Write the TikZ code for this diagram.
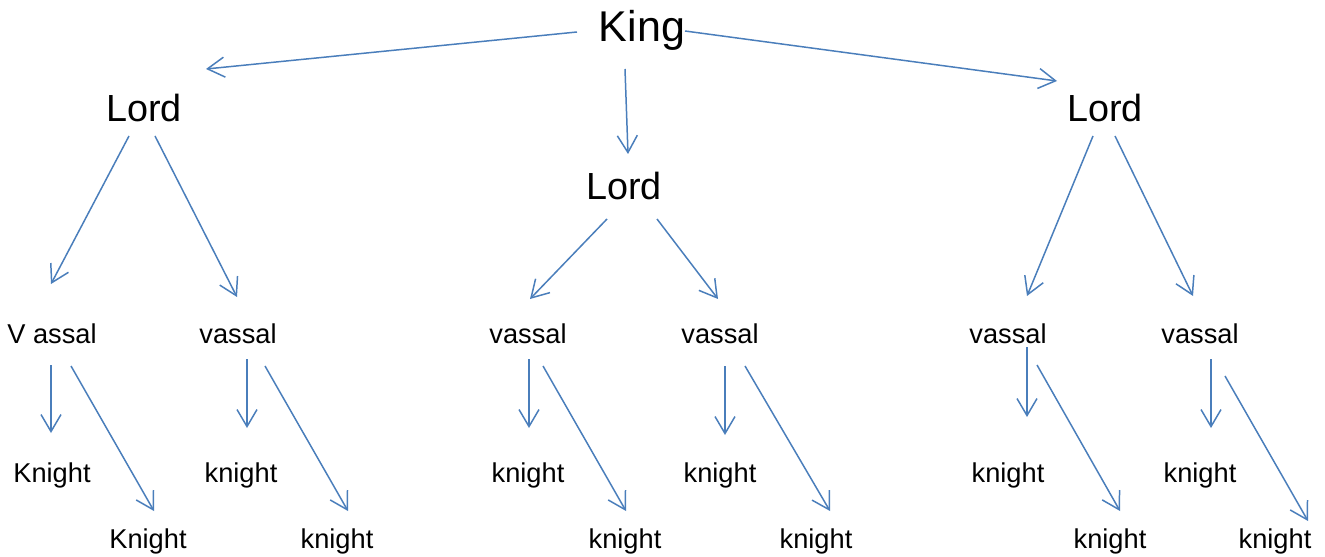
\documentclass[tikz,border=0pt]{standalone}
\usepackage{fontspec}
\setmainfont{Liberation Sans}
\usepackage{xcolor}
\usetikzlibrary{arrows.meta}
\definecolor{linkblue}{RGB}{74,126,187}

\begin{document}
\begin{tikzpicture}[x=0.02cm,y=-0.02cm]
\tikzset{>={Straight Barb[length=3.4mm,width=4mm]}}
\tikzstyle{king} =[anchor=base,inner sep=1pt,font=\fontsize{24.5}{28}\selectfont]
\tikzstyle{lord} =[anchor=base,inner sep=1pt,font=\fontsize{21.5}{25}\selectfont]
\tikzstyle{low} =[anchor=base,inner sep=1pt,font=\fontsize{15.5}{18}\selectfont]
\tikzstyle{link} =[linkblue,line width=0.85pt]
\useasboundingbox (0,0) rectangle (1325,557);
% king and lords
\node[king](king) at (642,42){King};
\node[lord](lordA) at (144,122){Lord};
\node[lord](lordB) at (624,200){Lord};
\node[lord](lordC) at (1105,122){Lord};
% vassals
\node[low](vasA) at (52,343){V assal};
\node[low](vasB) at (238,343){vassal};
\node[low](vasC) at (528,343){vassal};
\node[low](vasD) at (720,343){vassal};
\node[low](vasE) at (1008,343){vassal};
\node[low](vasF) at (1200,343){vassal};
% knights
\node[low](knA1) at (52,482){Knight};
\node[low](knB1) at (241,482){knight};
\node[low](knC1) at (528,482){knight};
\node[low](knD1) at (720,482){knight};
\node[low](knE1) at (1008,482){knight};
\node[low](knF1) at (1200,482){knight};
\node[low](knA2) at (148,548){Knight};
\node[low](knB2) at (337,548){knight};
\node[low](knC2) at (625,548){knight};
\node[low](knD2) at (816,548){knight};
\node[low](knE2) at (1110,548){knight};
\node[low](knF2) at (1275,548){knight};
% king to lords
\draw [->,link] ([shift={(-65,-10)}]king.base) -- ([shift={(62,-53)}]lordA.base);
\draw [->,link] ([shift={(-17,27)}]king.base) -- ([shift={(4,-46)}]lordB.base);
\draw [->,link] ([shift={(43,-11)}]king.base) -- ([shift={(-48,-41)}]lordC.base);
% lords to vassals
\draw [->,link] ([shift={(-15,14)}]lordA.base) -- ([shift={(-1,-59)}]vasA.base);
\draw [->,link] ([shift={(11,14)}]lordA.base) -- ([shift={(-1,-46)}]vasB.base);
\draw [->,link] ([shift={(-17,19)}]lordB.base) -- ([shift={(2,-44)}]vasC.base);
\draw [->,link] ([shift={(33,19)}]lordB.base) -- ([shift={(-2,-44)}]vasD.base);
\draw [->,link] ([shift={(-12,14)}]lordC.base) -- ([shift={(19,-47)}]vasE.base);
\draw [->,link] ([shift={(10,14)}]lordC.base) -- ([shift={(-7,-47)}]vasF.base);
% vassals to knights
\draw [->,link] ([shift={(-1,22)}]vasA.base) -- ([shift={(-1,-49)}]knA1.base);
\draw [->,link] ([shift={(19,23)}]vasA.base) -- ([shift={(6,-37)}]knA2.base);
\draw [->,link] ([shift={(9,16)}]vasB.base) -- ([shift={(6,-54)}]knB1.base);
\draw [->,link] ([shift={(27,23)}]vasB.base) -- ([shift={(11,-37)}]knB2.base);
\draw [->,link] ([shift={(1,16)}]vasC.base) -- ([shift={(1,-54)}]knC1.base);
\draw [->,link] ([shift={(15,23)}]vasC.base) -- ([shift={(1,-37)}]knC2.base);
\draw [->,link] ([shift={(5,23)}]vasD.base) -- ([shift={(5,-47)}]knD1.base);
\draw [->,link] ([shift={(25,23)}]vasD.base) -- ([shift={(14,-37)}]knD2.base);
\draw [->,link] ([shift={(19,4)}]vasE.base) -- ([shift={(19,-65)}]knE1.base);
\draw [->,link] ([shift={(29,22)}]vasE.base) -- ([shift={(10,-37)}]knE2.base);
\draw [->,link] ([shift={(11,16)}]vasF.base) -- ([shift={(11,-54)}]knF1.base);
\draw [->,link] ([shift={(25,33)}]vasF.base) -- ([shift={(33,-27)}]knF2.base);
\end{tikzpicture}
\end{document}
